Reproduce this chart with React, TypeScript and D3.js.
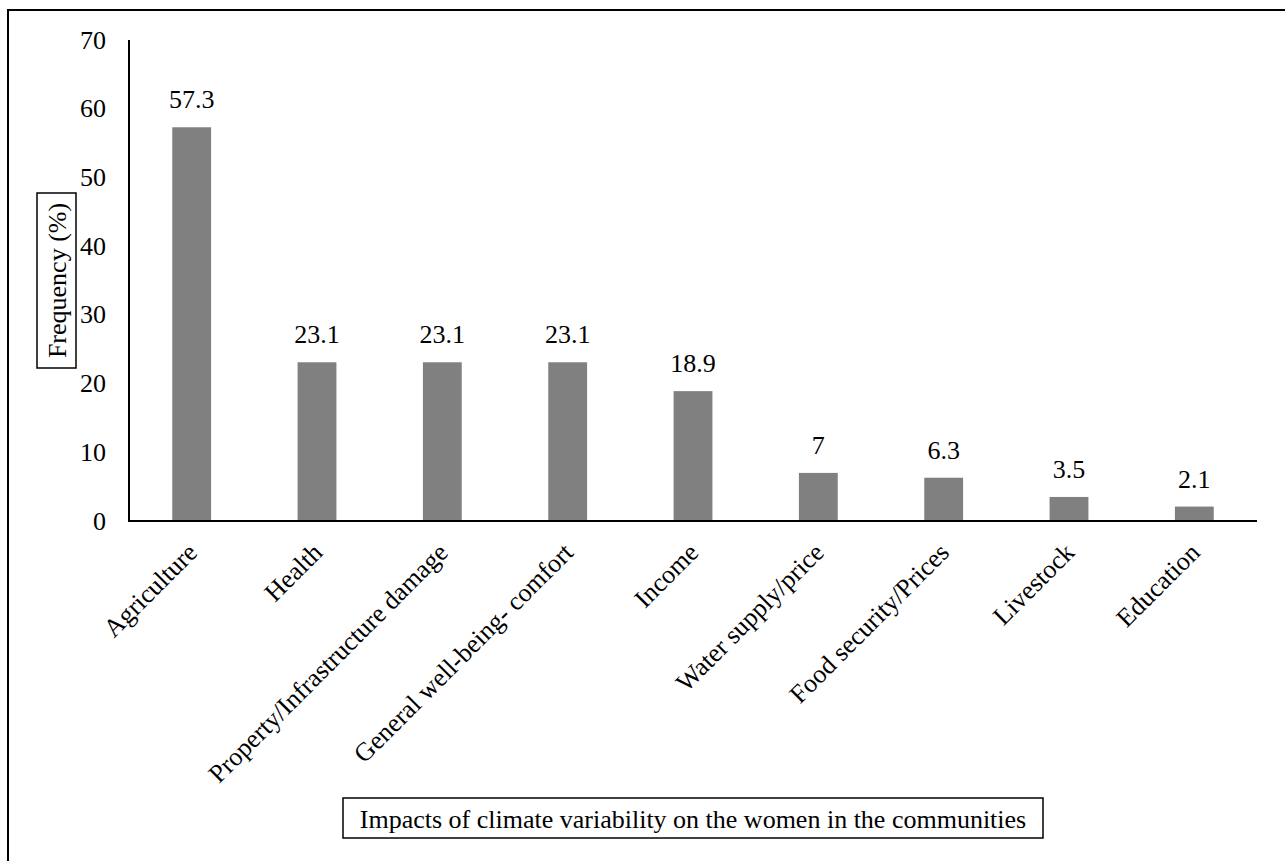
import React from "react";
import * as d3 from "d3";

const categories = [
  "Agriculture",
  "Health",
  "Property/Infrastructure damage",
  "General well-being- comfort",
  "Income",
  "Water supply/price",
  "Food security/Prices",
  "Livestock",
  "Education",
];
const values = [57.3, 23.1, 23.1, 23.1, 18.9, 7, 6.3, 3.5, 2.1];
const yTicks = [0, 10, 20, 30, 40, 50, 60, 70];
const yLabel = "Frequency (%)";
const xLabel = "Impacts of climate variability on the women in the communities";

const W = 1285;
const H = 861;
const FONT = "Liberation Serif, Times New Roman, serif";
const FS = 26;

export default function App() {
  const left = 129;
  const right = 1257;
  const top = 40;
  const bottom = 521;

  const x = d3.scaleBand<string>().domain(categories).range([left, right]).paddingInner(0).paddingOuter(0);
  const y = d3.scaleLinear().domain([0, 70]).range([bottom, top]);
  const barW = x.bandwidth() * 0.31;

  return (
    <svg
      width={W}
      height={H}
      style={{ position: "absolute", left: 0, top: 0, background: "#fff", fontFamily: FONT }}
    >
      <rect x={8} y={10} width={W + 20} height={H + 20} fill="#fff" stroke="#000" strokeWidth={2} />

      {/* bars with value labels and slanted category names */}
      {categories.map((c, i) => {
        const cx = (x(c) as number) + x.bandwidth() / 2;
        return (
          <g key={c}>
            <rect x={cx - barW / 2} y={y(values[i])} width={barW} height={bottom - y(values[i])} fill="#808080" />
            <text x={cx} y={y(values[i]) - 19} textAnchor="middle" fontSize={FS} fill="#000">
              {values[i]}
            </text>
            <text
              transform={`translate(${cx - 6},${bottom + 20}) rotate(-45)`}
              textAnchor="end"
              dominantBaseline="hanging"
              fontSize={FS}
              fill="#000"
            >
              {c}
            </text>
          </g>
        );
      })}

      {/* axes */}
      <line x1={left} x2={left} y1={top} y2={bottom + 1} stroke="#000" strokeWidth={2} />
      <line x1={left - 1} x2={right} y1={bottom} y2={bottom} stroke="#000" strokeWidth={2} />

      {yTicks.map((t) => (
        <text key={t} x={106} y={y(t)} textAnchor="end" dominantBaseline="central" fontSize={FS} fill="#000">
          {t}
        </text>
      ))}

      {/* y-axis title */}
      <rect x={37} y={193} width={39} height={175} fill="#fff" stroke="#000" strokeWidth={1.5} />
      <text
        transform={`translate(57,280.5) rotate(-90)`}
        textAnchor="middle"
        dominantBaseline="central"
        fontSize={FS}
        fill="#000"
      >
        {yLabel}
      </text>

      {/* x-axis title */}
      <rect x={343} y={798} width={700} height={40} fill="#fff" stroke="#000" strokeWidth={1.5} />
      <text x={693} y={819} textAnchor="middle" dominantBaseline="central" fontSize={FS} fill="#000">
        {xLabel}
      </text>
    </svg>
  );
}
